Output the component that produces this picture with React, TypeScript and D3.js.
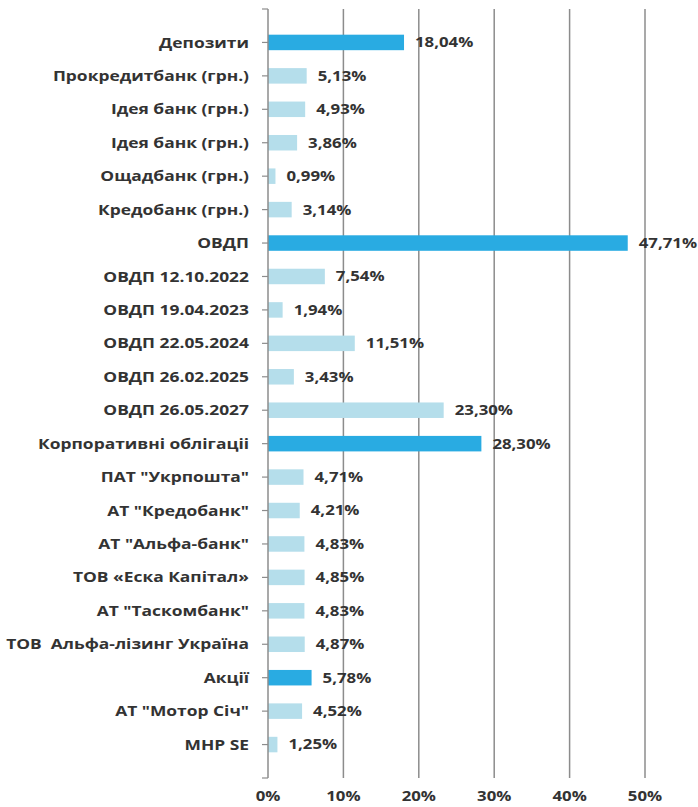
import React from "react";
import * as d3 from "d3";

const categories: string[] = [
  "Депозити",
  "Прокредитбанк (грн.)",
  "Ідея банк (грн.)",
  "Ідея банк (грн.) ",
  "Ощадбанк (грн.)",
  "Кредобанк (грн.)",
  "ОВДП",
  "ОВДП 12.10.2022",
  "ОВДП 19.04.2023",
  "ОВДП 22.05.2024",
  "ОВДП 26.02.2025",
  "ОВДП 26.05.2027",
  "Корпоративні облігаціі",
  "ПАТ \"Укрпошта\"",
  "АТ \"Кредобанк\"",
  "АТ \"Альфа-банк\"",
  "ТОВ «Еска Капітал»",
  "АТ \"Таскомбанк\"",
  "ТОВ  Альфа-лізинг Україна",
  "Акції",
  "АТ \"Мотор Січ\"",
  "MHP SE",
];

const values: number[] = [
  18.04, 5.13, 4.93, 3.86, 0.99, 3.14, 47.71, 7.54, 1.94, 11.51, 3.43, 23.3,
  28.3, 4.71, 4.21, 4.83, 4.85, 4.83, 4.87, 5.78, 4.52, 1.25,
];

const valueLabels: string[] = [
  "18,04%", "5,13%", "4,93%", "3,86%", "0,99%", "3,14%", "47,71%", "7,54%",
  "1,94%", "11,51%", "3,43%", "23,30%", "28,30%", "4,71%", "4,21%", "4,83%",
  "4,85%", "4,83%", "4,87%", "5,78%", "4,52%", "1,25%",
];

const groupTotals: string[] = ["Депозити", "ОВДП", "Корпоративні облігаціі", "Акції"];

const xTicks: number[] = [0, 10, 20, 30, 40, 50];

const FONT = "'Open Sans', 'DejaVu Sans', sans-serif";

export default function App() {
  const W = 698;
  const H = 807;
  const x0 = 268;
  const x = d3.scaleLinear().domain([0, 50]).range([x0, 645]);
  const yTop = 9;
  const yBot = 778;
  const y = d3
    .scalePoint<string>()
    .domain(categories.map((c, i) => i + ""))
    .range([yTop, yBot])
    .padding(1);
  const barH = 15.5;
  const dark = "#29ABE2";
  const light = "#B5DEEB";
  const grid = "#8c8c8c";
  const text = "#333333";
  const sx = 1.2;

  return (
    <svg
      width={W}
      height={H}
      style={{ position: "absolute", left: 0, top: 0, background: "#fff" }}
      fontFamily={FONT}
    >
      <rect x={0} y={0} width={W} height={H} fill="#fff" />
      {xTicks.slice(1).map((t) => (
        <line
          key={"g" + t}
          x1={x(t)}
          x2={x(t)}
          y1={yTop}
          y2={yBot}
          stroke={grid}
          strokeWidth={1.5}
        />
      ))}
      {categories.map((c, i) => {
        const cy = y(i + "") as number;
        const isGroup = groupTotals.includes(c);
        const vx = x(values[i]) + 11;
        return (
          <g key={i}>
            <rect
              x={x(0)}
              y={cy - barH / 2}
              width={x(values[i]) - x(0)}
              height={barH}
              fill={isGroup ? dark : light}
            />
            <text
              transform={`translate(${vx},${cy}) scale(${sx},1)`}
              dy="0.35em"
              fontSize={14}
              fontWeight={700}
              fill={text}
            >
              {valueLabels[i]}
            </text>
            <text
              transform={`translate(249,${cy}) scale(${sx},1)`}
              dy="0.35em"
              textAnchor="end"
              fontSize={14.5}
              fontWeight={700}
              fill={text}
              style={{ whiteSpace: "pre" }}
            >
              {c.trimEnd()}
            </text>
            <line x1={x0 - 6} x2={x0} y1={cy} y2={cy} stroke={grid} strokeWidth={1.2} />
          </g>
        );
      })}
      <line x1={x0 - 6} x2={x0} y1={yTop} y2={yTop} stroke={grid} strokeWidth={1.2} />
      <line x1={x0 - 6} x2={x0} y1={yBot} y2={yBot} stroke={grid} strokeWidth={1.2} />
      <line x1={x0} x2={x0} y1={yTop} y2={yBot} stroke={grid} strokeWidth={1.5} />
      {xTicks.map((t) => (
        <text
          key={"t" + t}
          transform={`translate(${x(t)},801) scale(${sx},1)`}
          textAnchor="middle"
          fontSize={14}
          fontWeight={700}
          fill={text}
        >
          {t + "%"}
        </text>
      ))}
    </svg>
  );
}
